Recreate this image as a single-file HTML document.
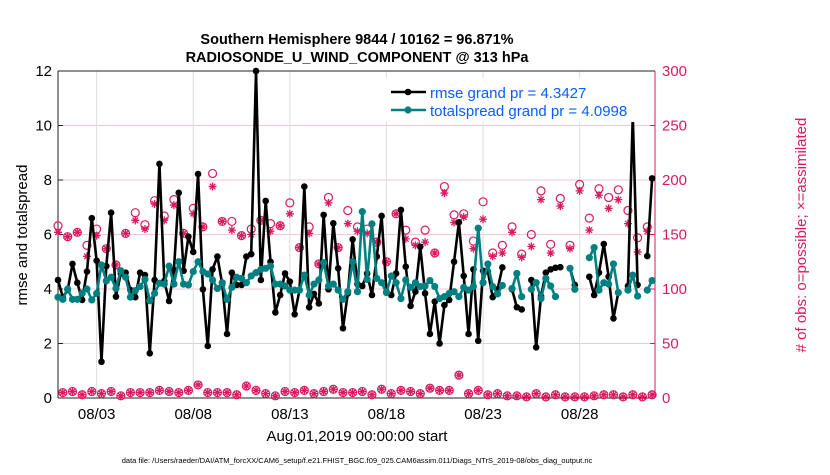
<!DOCTYPE html>
<html><head><meta charset="utf-8"><style>
body{margin:0;background:#fff;width:830px;height:470px;overflow:hidden;font-family:"Liberation Sans",sans-serif}
svg text{font-family:"Liberation Sans",sans-serif}
</style></head><body>
<svg id="chart" width="830" height="470" xmlns="http://www.w3.org/2000/svg">
<text x="357" y="44" text-anchor="middle" font-size="14.5" font-weight="bold">Southern Hemisphere 9844 / 10162 = 96.871%</text>
<text x="357" y="62" text-anchor="middle" font-size="14.5" font-weight="bold">RADIOSONDE_U_WIND_COMPONENT @ 313 hPa</text>
<text transform="translate(27,235) rotate(-90)" text-anchor="middle" font-size="15">rmse and totalspread</text>
<text transform="translate(806,235) rotate(-90)" text-anchor="middle" font-size="15" fill="#d81b60">#  of obs: o=possible; ×=assimilated</text>
<text x="357" y="441" text-anchor="middle" font-size="15">Aug.01,2019 00:00:00 start</text>
<text x="357" y="463" text-anchor="middle" font-size="7.5">data file: /Users/raeder/DAI/ATM_forcXX/CAM6_setup/f.e21.FHIST_BGC.f09_025.CAM6assim.011/Diags_NTrS_2019-08/obs_diag_output.nc</text>
<g id="grid"></g><g id="axes"></g><g id="obs"></g><g id="series"></g>
<g>
<rect x="385" y="78" width="265" height="44" fill="#fff"/>
<line x1="391" y1="92" x2="426" y2="92" stroke="#000" stroke-width="2.5"/><circle cx="408" cy="92" r="3.3" fill="#000"/>
<text x="430" y="98" font-size="15" fill="#0a5cff">rmse grand pr = 4.3427</text>
<line x1="391" y1="110" x2="426" y2="110" stroke="#008080" stroke-width="2.5"/><circle cx="408" cy="110" r="3.6" fill="#008080"/>
<text x="430" y="116" font-size="15" fill="#0a5cff">totalspread grand pr = 4.0998</text>
</g>
</svg>
<script>
const rmse=[4.33,3.7,3.96,4.92,4.23,3.6,4.64,6.6,5.04,1.33,4.84,6.8,3.72,4.57,4.6,3.96,3.7,4.6,4.51,1.64,4.33,8.59,4.29,3.56,4.7,7.53,4.67,5.92,5.36,8.22,3.99,1.91,4.72,5.19,4.18,2.35,4.6,4.15,4.15,5.19,5.28,12.0,4.33,7.23,5.0,3.14,3.78,4.57,4.27,3.07,3.96,7.76,3.33,3.82,3.47,6.72,3.99,6.41,4.76,2.56,3.84,5.82,4.18,4.11,4.57,3.78,5.19,6.68,3.9,3.78,4.57,6.9,4.82,3.38,3.9,5.55,3.84,2.35,3.54,2.0,3.41,3.6,5.0,6.45,4.48,2.35,4.72,2.1,4.67,4.64,3.7,3.99,4.79,null,3.99,3.33,3.25,null,4.33,1.86,3.74,4.6,4.72,4.78,4.8,null,4.76,4.15,null,null,4.45,3.78,4.6,5.65,4.45,2.92,3.87,null,4.11,10.35,4.15,null,5.21,8.06];
const spread=[3.7,3.62,4.0,3.62,3.62,3.84,4.0,3.6,3.84,4.88,4.3,4.43,4.02,4.67,4.43,3.7,3.94,4.09,4.35,3.57,3.84,4.21,4.18,4.84,4.18,5.0,4.18,4.15,4.64,5.0,4.64,4.55,4.33,4.02,4.23,3.62,4.06,4.43,4.39,4.23,4.48,4.6,4.72,4.76,4.84,4.18,4.18,4.11,3.96,3.96,3.96,4.51,3.78,4.18,4.33,4.97,4.11,4.18,3.96,3.62,3.9,5.0,3.9,6.84,4.35,6.39,4.39,4.23,3.87,4.48,4.23,3.65,4.33,4.06,4.23,4.09,4.11,4.31,4.09,3.65,3.72,3.84,3.9,3.72,4.06,3.96,4.09,6.23,4.23,4.92,4.09,3.82,4.13,null,4.02,4.57,3.72,null,3.99,4.23,3.65,4.39,4.11,3.72,null,null,4.76,3.99,null,null,5.15,5.52,3.96,4.23,4.18,4.92,3.87,null,3.96,4.51,3.74,null,3.96,4.31];
const possEven=[158,148,152,140,155,137,122,151,170,159,181,167,182,151,174,157,206,162,162,149,155,163,160,158,179,138,157,123,184,138,172,157,155,143,125,169,154,143,154,133,194,168,169,144,180,133,140,157,132,150,190,141,183,140,196,165,192,184,191,172,147,157];
const assimEven=[152,148,152,130,149,137,122,151,163,155,178,163,177,151,169,157,194,162,154,149,150,163,153,158,169,138,151,123,179,138,160,153,151,143,125,169,146,140,143,133,188,161,166,137,164,130,133,152,129,139,182,133,176,137,190,154,186,174,182,160,134,153];
const countsOdd=[5,6,3,6,4,6,2,5,5,5,7,6,5,7,12,5,5,5,3,11,7,4,2,6,5,7,4,6,8,5,5,6,3,8,4,7,6,4,9,7,7,21,4,7,3,4,2,2,1,4,1,3,1,1,1,2,3,3,1,3,1,3];
const leftTicks=[0,2,4,6,8,10,12];
const rightTicks=[0,50,100,150,200,250,300];
const dayTicks=[2,7,12,17,22,27];
const dayLabels=["08/03","08/08","08/13","08/18","08/23","08/28"];
const X0=58,X1=655,Y0=398,Y1=71,DAYS=30.9;
const NS="http://www.w3.org/2000/svg";
function xs(d){return X0+d/DAYS*(X1-X0);}
function yl(v){return Y0-v/12*(Y0-Y1);}
function yr(v){return Y0-v/300*(Y0-Y1);}
function mk(tag,at,parent){const e=document.createElementNS(NS,tag);for(const k in at)e.setAttribute(k,at[k]);parent.appendChild(e);return e;}
const grid=document.getElementById('grid'),axes=document.getElementById('axes'),obs=document.getElementById('obs'),ser=document.getElementById('series');
const PINK="#d81b60";
leftTicks.forEach(t=>{
 if(t>0&&t<12){const g=mk('line',{x1:X0,x2:X1,y1:yl(t),y2:yl(t),stroke:'#f3c6d6','stroke-width':1},grid);
 
 }
 const l=mk('text',{x:X0-6,y:yl(t)+5,'text-anchor':'end','font-size':15},axes);l.textContent=t;
 
 
 mk('line',{x1:X0,x2:X0+5,y1:yl(t),y2:yl(t),stroke:'#222'},axes);
});
rightTicks.forEach(t=>{
 const l=mk('text',{x:X1+7,y:yr(t)+5,'font-size':15,fill:PINK},axes);l.textContent=t;
 
 
 mk('line',{x1:X1-5,x2:X1,y1:yr(t),y2:yr(t),stroke:PINK},axes);
});
dayTicks.forEach((d,i)=>{
 const g=mk('line',{x1:xs(d),x2:xs(d),y1:Y1,y2:Y0,stroke:'#dddddd','stroke-width':1},grid);
 
 
 const l=mk('text',{x:xs(d),y:Y0+21,'text-anchor':'middle','font-size':15},axes);l.textContent=dayLabels[i];
 
 
});
mk('line',{x1:X0,x2:X1,y1:Y1,y2:Y1,stroke:'#222'},axes);
mk('line',{x1:X0,x2:X1,y1:Y0,y2:Y0,stroke:'#222'},axes);
mk('line',{x1:X0,x2:X0,y1:Y1,y2:Y0,stroke:'#222'},axes);
mk('line',{x1:X1,x2:X1,y1:Y1,y2:Y0,stroke:PINK},axes);
function star(cx,cy,r,parent){
 const p=`M${cx-r},${cy}H${cx+r}M${cx},${cy-r}V${cy+r}M${cx-r*.7},${cy-r*.7}L${cx+r*.7},${cy+r*.7}M${cx-r*.7},${cy+r*.7}L${cx+r*.7},${cy-r*.7}`;
 return mk('path',{d:p,stroke:PINK,'stroke-width':1.3,fill:'none'},parent);
}
for(let i=0;i<124;i++){
 const d=i*0.25,x=xs(d);
 let p,a;
 if(i%2===0){p=possEven[i/2];a=assimEven[i/2];}else{p=a=countsOdd[(i-1)/2];}
 const c=mk('circle',{cx:x,cy:yr(p),r:4,fill:'none',stroke:PINK,'stroke-width':1.2},obs);
 
 
 const s=star(x,yr(a),4,obs);
 
 
}
function drawSeries(vals,color,r,name){
 let d='',pen=false;
 vals.forEach((v,i)=>{if(v===null){pen=false;return;}d+=(pen?'L':'M')+xs(i*0.25)+','+yl(v);pen=true;});
 const p=mk('path',{d:d,stroke:color,'stroke-width':2.6,fill:'none','stroke-linejoin':'round'},ser);
 
 
 vals.forEach((v,i)=>{if(v===null)return;
  const c=mk('circle',{cx:xs(i*0.25),cy:yl(v),r:r,fill:color},ser);
  
  });
}
drawSeries(rmse,'#000',3.3,'rmse');
drawSeries(spread,'#008080',3.6,'totalspread');
</script>
</body></html>
